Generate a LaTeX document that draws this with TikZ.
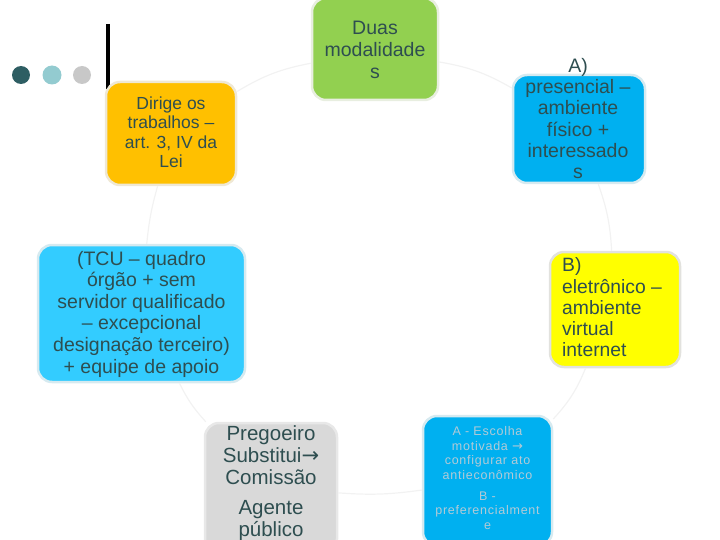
\documentclass[tikz,border=0pt]{standalone}
\usepackage{fontspec}
\setmainfont{Liberation Sans}
\newfontfamily\arrowfont{DejaVu Sans}
\definecolor{cgreen}{HTML}{92D050}
\definecolor{cblue}{HTML}{00B0F0}
\definecolor{clblue}{HTML}{33CCFF}
\definecolor{corange}{HTML}{FFC000}
\definecolor{cyellow}{HTML}{FFFF00}
\definecolor{cgray}{HTML}{D9D9D9}
\definecolor{ctext}{HTML}{2E4E50}
\definecolor{csmall}{HTML}{B3CAD6}
\definecolor{carc}{HTML}{F2F2F2}
\definecolor{dot1}{HTML}{2E5E63}
\definecolor{dot2}{HTML}{93CBD0}
\definecolor{dot3}{HTML}{C8C8C8}
\definecolor{bgreen}{HTML}{E8EEE0}
\definecolor{bblue}{HTML}{D6EAF0}
\definecolor{byellow}{HTML}{E2E2DE}
\definecolor{bgray}{HTML}{E8E8E8}
\definecolor{borange}{HTML}{EFE8D4}
\begin{document}
\begin{tikzpicture}[x=1pt,y=-1pt,
  box/.style={rounded corners=14pt, line width=2.5pt, inner sep=0pt},
  txt/.style={inner sep=0pt, align=center, text=ctext},
  arc/.style={draw=carc, line width=1.2pt}]
\useasboundingbox (0,0) rectangle (720,540);
% decoration
\fill[dot1] (21,75) circle (9pt);
\fill[dot2] (52,75) circle (9.5pt);
\fill[dot3] (82,75) circle (9pt);
\draw[line width=3.5pt] (108,24) -- (108,89);
% boxes
\node[box, fill=cgreen, draw=bgreen, minimum width=126pt, minimum height=102pt] (g) at (375,49) {};
\node[box, fill=cblue, draw=bblue, minimum width=132pt, minimum height=108pt] (a) at (579,129) {};
\node[box, fill=cyellow, draw=byellow, minimum width=130pt, minimum height=115pt] (y) at (615,309.5) {};
\node[box, fill=cblue, draw=bblue, minimum width=129pt, minimum height=130pt] (br) at (487.5,481) {};
\node[box, fill=cgray, draw=bgray, minimum width=132pt, minimum height=130pt] (gr) at (271,488) {};
\node[box, fill=clblue, draw=bblue, minimum width=207pt, minimum height=137pt] (lb) at (141.5,313.5) {};
\node[box, fill=corange, draw=borange, minimum width=130pt, minimum height=103pt] (o) at (171,133.5) {};
% arcs
\draw[arc] (g) to[bend left=10] (a);
\draw[arc] (a) to[bend left=8] (y);
\draw[arc] (y) to[bend left=10] (br);
\draw[arc] (br) to[bend left=6] (gr);
\draw[arc] (gr) to[bend left=8] (lb);
\draw[arc] (lb) to[bend left=5] (o);
\draw[arc] (o) to[bend left=10] (g);
% texts
\node[txt, font=\fontsize{19.5}{22}\selectfont] (tg) at (375,49.5) {Duas\\modalidade\\s};
\node[txt, font=\fontsize{19.5}{21.3}\selectfont] (ta) at (578,118.5) {A)\\presencial –\\ambiente\\físico +\\interessado\\s};
\node[txt, font=\fontsize{17.5}{19.5}\selectfont] (to) at (171,132) {Dirige os\\trabalhos –\\art. 3, IV da\\Lei};
\node[txt, font=\fontsize{19.5}{21.6}\selectfont] (tlb) at (141.5,314) {(TCU – quadro\\órgão + sem\\servidor qualificado\\– excepcional\\designação terceiro)\\+ equipe de apoio};
\node[txt, align=left, anchor=west, font=\fontsize{19.3}{21.3}\selectfont] (ty) at (562,307.5) {B)\\eletrônico –\\ambiente\\virtual\\internet};
\node[txt, font=\fontsize{20.5}{22}\selectfont] (tgr) at (271,483.5) {Pregoeiro\\Substitui{\arrowfont\fontsize{21}{22}\selectfont→}\\Comissão\\[8pt]Agente\\público};
\node[txt, text=csmall, font=\fontsize{12.5}{14.7}\selectfont\addfontfeature{LetterSpace=6}] (tbr) at (487.5,478) {A - Escolha\\motivada {\arrowfont\fontsize{13}{14.7}\selectfont→}\\configurar ato\\antieconômico\\[6pt]B -\\preferencialment\\e};
\end{tikzpicture}
\end{document}
